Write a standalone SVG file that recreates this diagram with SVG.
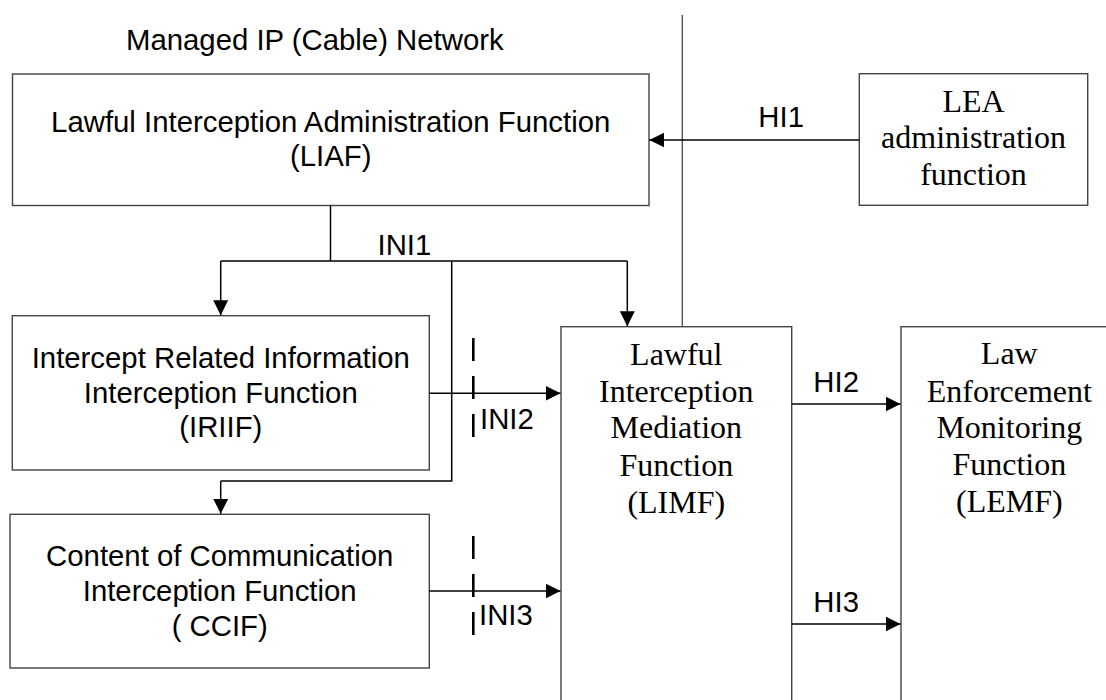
<svg xmlns="http://www.w3.org/2000/svg" width="1106" height="700" viewBox="0 0 1106 700">
<style>
.box{fill:#fff;stroke:#444;stroke-width:1.4}
.ln{fill:none;stroke:#000;stroke-width:1.5}
.dash{fill:none;stroke:#000;stroke-width:2.6;stroke-dasharray:23 15}
.sans{font-family:"Liberation Sans",Arial,sans-serif;font-size:29.33px;fill:#000}
.serif{font-family:"Liberation Serif","Times New Roman",serif;font-size:32px;fill:#000}
.c{text-anchor:middle}
</style>
<defs>
<marker id="ah" markerUnits="userSpaceOnUse" markerWidth="16" markerHeight="16" refX="15" refY="7.5" orient="auto">
<path d="M0,0 L15,7.5 L0,15 z" fill="#000"/>
</marker>
</defs>
<rect width="1106" height="700" fill="#fff"/>
<text class="sans" x="126" y="50">Managed IP (Cable) Network</text>
<line x1="682.3" y1="15" x2="682.3" y2="327" stroke="#555" stroke-width="1.4"/>
<g id="liaf">
<rect class="box" x="12.5" y="74" width="636.5" height="131.5"/>
<text class="sans c" x="330.7" y="131.7">Lawful Interception Administration Function</text>
<text class="sans c" x="330.7" y="165.7">(LIAF)</text>
</g>
<g id="lea">
<rect class="box" x="859.3" y="73.7" width="228.4" height="131.6"/>
<text class="serif c" x="973.5" y="112.3">LEA</text>
<text class="serif c" x="973.5" y="148.3">administration</text>
<text class="serif c" x="973.5" y="185">function</text>
</g>
<g id="iriif">
<rect class="box" x="12.3" y="315.7" width="417" height="154.3"/>
<text class="sans c" x="220.8" y="368.3">Intercept Related Information</text>
<text class="sans c" x="220.8" y="402.7">Interception Function</text>
<text class="sans c" x="220.8" y="437">(IRIIF)</text>
</g>
<g id="ccif">
<rect class="box" x="10" y="514.3" width="419.3" height="153.7"/>
<text class="sans c" x="219.7" y="565.7">Content of Communication</text>
<text class="sans c" x="219.7" y="601">Interception Function</text>
<text class="sans c" x="219.7" y="636">( CCIF)</text>
</g>
<g id="limf">
<rect class="box" x="561" y="326.7" width="230.7" height="420"/>
<text class="serif c" x="676.3" y="365">Lawful</text>
<text class="serif c" x="676.3" y="401.7">Interception</text>
<text class="serif c" x="676.3" y="438.3">Mediation</text>
<text class="serif c" x="676.3" y="476">Function</text>
<text class="serif c" x="676.3" y="512.7">(LIMF)</text>
</g>
<g id="lemf">
<rect class="box" x="901" y="326.7" width="300" height="420"/>
<text class="serif c" x="1009.3" y="364.3">Law</text>
<text class="serif c" x="1009.3" y="401.7">Enforcement</text>
<text class="serif c" x="1009.3" y="438.3">Monitoring</text>
<text class="serif c" x="1009.3" y="475">Function</text>
<text class="serif c" x="1009.3" y="512.3">(LEMF)</text>
</g>
<g id="connectors">
<line class="ln" x1="859.3" y1="140" x2="649.3" y2="140" marker-end="url(#ah)"/>
<text class="sans" x="758.3" y="126.7">HI1</text>
<polyline class="ln" points="330.5,205.5 330.5,261"/>
<polyline class="ln" points="220.7,261 627.3,261"/>
<line class="ln" x1="220.7" y1="261" x2="220.7" y2="315.2" marker-end="url(#ah)"/>
<line class="ln" x1="627.3" y1="261" x2="627.3" y2="326.2" marker-end="url(#ah)"/>
<polyline class="ln" points="451.7,261 451.7,481 220.7,481"/>
<line class="ln" x1="220.7" y1="481" x2="220.7" y2="513.8" marker-end="url(#ah)"/>
<text class="sans" x="377.5" y="255">INI1</text>
<line class="ln" x1="429.3" y1="393.3" x2="560.5" y2="393.3" marker-end="url(#ah)"/>
<line class="dash" x1="473.3" y1="338" x2="473.3" y2="437.3"/>
<text class="sans" x="480" y="429.3">INI2</text>
<line class="ln" x1="429.3" y1="591" x2="560.5" y2="591" marker-end="url(#ah)"/>
<line class="dash" x1="473.3" y1="536" x2="473.3" y2="635"/>
<text class="sans" x="479" y="625">INI3</text>
<line class="ln" x1="791.7" y1="404" x2="900.5" y2="404" marker-end="url(#ah)"/>
<text class="sans" x="813.3" y="391.7">HI2</text>
<line class="ln" x1="791.7" y1="624" x2="900.5" y2="624" marker-end="url(#ah)"/>
<text class="sans" x="813.3" y="611.7">HI3</text>
</g>
</svg>
